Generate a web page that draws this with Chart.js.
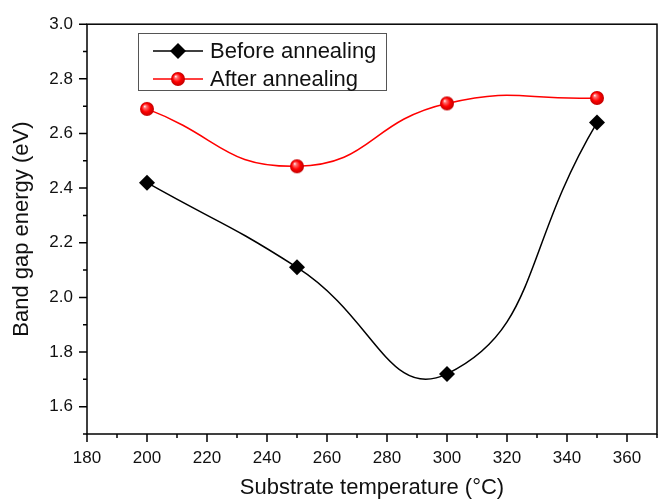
<!DOCTYPE html>
<html>
<head>
<meta charset="utf-8">
<script src="https://cdn.jsdelivr.net/npm/chart.js"></script>
<style>
  html, body { margin: 0; padding: 0; background: #fff; }
</style>
</head>
<body>
<canvas id="chart" width="666" height="503"></canvas>
<script>
// Data
const temperatures = [200, 250, 300, 350];
const beforeAnnealing = [2.42, 2.11, 1.72, 2.64];
const afterAnnealing = [2.69, 2.48, 2.71, 2.73];
const xTickLabels = [180, 200, 220, 240, 260, 280, 300, 320, 340, 360];
const yTickLabels = [1.6, 1.8, 2.0, 2.2, 2.4, 2.6, 2.8, 3.0];
const seriesNames = ['Before annealing', 'After annealing'];

const FONT = '"Liberation Sans", Arial, sans-serif';

// Shaded red ball used as marker
function makeBall(r) {
    const size = r * 2 + 2;
    const c = document.createElement('canvas');
    c.width = size;
    c.height = size;
    const g = c.getContext('2d');
    const cx = size / 2, cy = size / 2;
    const grad = g.createRadialGradient(cx - r * 0.35, cy - r * 0.4, 0, cx, cy, r);
    grad.addColorStop(0, '#ffffff');
    grad.addColorStop(0.22, '#ff7070');
    grad.addColorStop(0.6, '#ff0000');
    grad.addColorStop(1, '#c00000');
    g.fillStyle = grad;
    g.beginPath();
    g.arc(cx, cy, r, 0, Math.PI * 2);
    g.fill();
    return c;
}
const ball = makeBall(7);

// Frame and axis ticks (major + minor)
const framePlugin = {
    id: 'frame',
    afterDraw(chart) {
        const ctx = chart.ctx;
        const a = chart.chartArea;
        const xs = chart.scales.x, ys = chart.scales.y;
        ctx.save();
        ctx.strokeStyle = '#000';
        ctx.lineWidth = 1.5;
        ctx.strokeRect(a.left, a.top, a.right - a.left, a.bottom - a.top);
        ctx.beginPath();
        for (let v = 180; v <= 370; v += 10) {
            const px = xs.getPixelForValue(v);
            const len = (v % 20 === 0) ? 8 : 4;
            ctx.moveTo(px, a.bottom);
            ctx.lineTo(px, a.bottom + len);
        }
        for (let i = 0; i <= 15; i++) {
            const v = 1.5 + i * 0.1;
            const py = ys.getPixelForValue(v);
            const len = (i % 2 === 1) ? 8 : 4;
            ctx.moveTo(a.left, py);
            ctx.lineTo(a.left - len, py);
        }
        ctx.stroke();
        ctx.restore();
    }
};

// Legend box like the original
const legendPlugin = {
    id: 'boxLegend',
    afterDraw(chart) {
        const ctx = chart.ctx;
        ctx.save();
        ctx.strokeStyle = '#555';
        ctx.lineWidth = 1;
        ctx.strokeRect(138.5, 33.5, 248, 57);
        ctx.font = '22px ' + FONT;
        ctx.textBaseline = 'middle';
        ctx.fillStyle = '#111';
        const rows = [51, 79];
        chart.data.datasets.forEach((ds, i) => {
            const y = rows[i];
            ctx.strokeStyle = ds.borderColor;
            ctx.lineWidth = 1.5;
            ctx.beginPath();
            ctx.moveTo(153, y);
            ctx.lineTo(203, y);
            ctx.stroke();
            if (i === 0) {
                ctx.fillStyle = '#000';
                ctx.beginPath();
                ctx.moveTo(178, y - 8);
                ctx.lineTo(186, y);
                ctx.lineTo(178, y + 8);
                ctx.lineTo(170, y);
                ctx.closePath();
                ctx.fill();
            } else {
                ctx.drawImage(ball, 178 - ball.width / 2, y - ball.height / 2);
            }
            ctx.fillStyle = '#111';
            ctx.fillText(ds.label, 210, y + 1);
        });
        ctx.restore();
    }
};

new Chart(document.getElementById('chart'), {
    type: 'line',
    data: {
        datasets: [
            {
                label: seriesNames[0],
                data: temperatures.map((t, i) => ({ x: t, y: beforeAnnealing[i] })),
                borderColor: '#000000',
                backgroundColor: '#000000',
                borderWidth: 1.5,
                tension: 0.5,
                pointStyle: 'rectRot',
                pointRadius: 8,
                pointBorderWidth: 0,
                pointBackgroundColor: '#000000'
            },
            {
                label: seriesNames[1],
                data: temperatures.map((t, i) => ({ x: t, y: afterAnnealing[i] })),
                borderColor: '#ff0000',
                backgroundColor: '#ff0000',
                borderWidth: 1.5,
                tension: 0.5,
                pointStyle: ball,
                pointRadius: 7
            }
        ]
    },
    options: {
        responsive: false,
        animation: false,
        layout: { padding: { top: 19, right: 9, left: 0, bottom: 0 } },
        plugins: {
            legend: { display: false },
            tooltip: { enabled: false }
        },
        scales: {
            x: {
                type: 'linear',
                min: 180,
                max: 370,
                afterBuildTicks: s => { s.ticks = xTickLabels.map(v => ({ value: v })); },
                afterFit: s => { s.height = 69; },
                grid: { display: false, drawTicks: false },
                border: { display: false },
                ticks: {
                    padding: 14,
                    color: '#111',
                    font: { family: FONT, size: 17 },
                    maxRotation: 0,
                    callback: v => String(v)
                },
                title: {
                    display: true,
                    text: 'Substrate temperature (°C)',
                    color: '#111',
                    font: { family: FONT, size: 22 },
                    padding: { top: 2, bottom: 2 }
                }
            },
            y: {
                type: 'linear',
                min: 1.5,
                max: 3.0,
                afterBuildTicks: s => { s.ticks = yTickLabels.map(v => ({ value: v })); },
                afterFit: s => { s.width = 87; },
                grid: { display: false, drawTicks: false },
                border: { display: false },
                ticks: {
                    padding: 14,
                    color: '#111',
                    font: { family: FONT, size: 17 },
                    callback: v => v.toFixed(1)
                },
                title: {
                    display: true,
                    text: 'Band gap energy (eV)',
                    color: '#111',
                    font: { family: FONT, size: 22 },
                    padding: { top: 9, bottom: 9 }
                }
            }
        }
    },
    plugins: [framePlugin, legendPlugin]
});
</script>
</body>
</html>
